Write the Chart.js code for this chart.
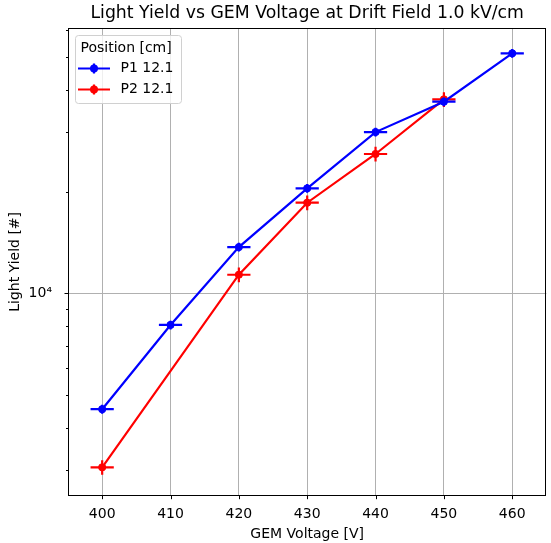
<!DOCTYPE html>
<html><head><meta charset="utf-8">
<script src="https://cdn.jsdelivr.net/npm/chart.js@4.4.0/dist/chart.umd.min.js"></script>
<style>html,body{margin:0;padding:0;background:#fff}#wrap{width:551px;height:543px}canvas{display:block}</style>
</head><body>
<div id="wrap"><canvas id="c" width="551" height="543"></canvas></div>
<script>
// ---- data ----
const voltagesP1 = [400, 410, 420, 430, 440, 450, 460];
const yieldP1    = [4540, 8060, 13700, 20450, 30000, 36900, 51300];
const yErrP1     = [140, 240, 410, 610, 900, 1100, 1540];
const voltagesP2 = [400, 420, 430, 440, 450];
const yieldP2    = [3055, 11350, 18540, 25840, 37500];
const yErrP2     = [150, 570, 930, 1290, 1880];
const xErrV      = 1.7;
const xTickValues = [400, 410, 420, 430, 440, 450, 460];
const yMajorTicks = [10000];
const yMinorTicks = [3000, 4000, 5000, 6000, 7000, 8000, 9000, 20000, 30000, 40000, 50000, 60000];
const seriesLabels = ['P1 12.1', 'P2 12.1'];
const legendTitle = 'Position [cm]';

const FONT = 'DejaVu Sans';
const GRID = '#b0b0b0';

function pts(xs, ys) { return xs.map((x, i) => ({x: x, y: ys[i]})); }
const zeroPad = () => ({left: 0, top: 0, right: 0, bottom: 0});

const errPlugin = {
  id: 'errbars',
  afterDatasetDraw(chart, args) {
    const ds = chart.data.datasets[args.index];
    const xs = chart.scales.x, ys = chart.scales.y, ctx = chart.ctx;
    ctx.save();
    ctx.beginPath();
    ctx.rect(chart.chartArea.left, chart.chartArea.top, chart.chartArea.right - chart.chartArea.left, chart.chartArea.bottom - chart.chartArea.top);
    ctx.clip();
    ctx.strokeStyle = ds.borderColor; ctx.lineWidth = 2.2;
    ds.data.forEach((p, i) => {
      const px = xs.getPixelForValue(p.x), py = ys.getPixelForValue(p.y);
      ctx.beginPath();
      ctx.moveTo(xs.getPixelForValue(p.x - ds.xErr), py);
      ctx.lineTo(xs.getPixelForValue(p.x + ds.xErr), py);
      ctx.moveTo(px, ys.getPixelForValue(p.y - ds.yErr[i]));
      ctx.lineTo(px, ys.getPixelForValue(p.y + ds.yErr[i]));
      ctx.stroke();
    });
    ctx.restore();
  }
};

const framePlugin = {
  id: 'frame',
  afterDraw(chart) {
    const ctx = chart.ctx, a = chart.chartArea, xs = chart.scales.x, ys = chart.scales.y;
    ctx.save();
    ctx.strokeStyle = '#000'; ctx.lineWidth = 1;
    ctx.strokeRect(Math.round(a.left) + 0.5, Math.round(a.top) + 0.5, Math.round(a.right - a.left) - 1, Math.round(a.bottom - a.top) - 1);
    ctx.beginPath();
    xTickValues.forEach(v => {
      const x = Math.round(xs.getPixelForValue(v)) + 0.5;
      ctx.moveTo(x, a.bottom); ctx.lineTo(x, a.bottom + 3.5);
    });
    yMajorTicks.forEach(v => {
      const y = Math.round(ys.getPixelForValue(v)) + 0.5;
      ctx.moveTo(a.left, y); ctx.lineTo(a.left - 3.5, y);
    });
    yMinorTicks.forEach(v => {
      const y = Math.round(ys.getPixelForValue(v)) + 0.5;
      ctx.moveTo(a.left, y); ctx.lineTo(a.left - 2, y);
    });
    ctx.stroke();

    // legend
    const lx = 75, ly = 35, lw = 106, lh = 68;
    ctx.fillStyle = 'rgba(255,255,255,0.8)';
    ctx.strokeStyle = '#d0d0d0';
    ctx.beginPath();
    if (ctx.roundRect) ctx.roundRect(lx + 0.5, ly + 0.5, lw, lh, 3); else ctx.rect(lx + 0.5, ly + 0.5, lw, lh);
    ctx.fill(); ctx.stroke();
    ctx.fillStyle = '#000';
    ctx.font = '14px "' + FONT + '"';
    ctx.textBaseline = 'middle';
    ctx.textAlign = 'left';
    ctx.fillText(legendTitle, 80.5, 48.5);
    chart.data.datasets.forEach((ds, i) => {
      const y = 68.5 + i * 21;
      ctx.strokeStyle = ds.borderColor; ctx.lineWidth = 2.2;
      ctx.beginPath();
      ctx.moveTo(78, y); ctx.lineTo(110, y);
      ctx.moveTo(94, y - 5); ctx.lineTo(94, y + 5);
      ctx.stroke();
      ctx.fillStyle = ds.borderColor;
      ctx.beginPath(); ctx.arc(94, y, 4, 0, Math.PI * 2); ctx.fill();
      ctx.fillStyle = '#000';
      ctx.fillText(seriesLabels[i], 120.5, y);
    });
    ctx.restore();
  }
};

new Chart(document.getElementById('c'), {
  type: 'line',
  data: {
    datasets: [
      { label: seriesLabels[0], data: pts(voltagesP1, yieldP1), yErr: yErrP1, xErr: xErrV,
        borderColor: '#0000ff', backgroundColor: '#0000ff', borderWidth: 2.2, pointRadius: 3.6, pointBorderWidth: 1,
        pointHoverRadius: 3.6, tension: 0, fill: false },
      { label: seriesLabels[1], data: pts(voltagesP2, yieldP2), yErr: yErrP2, xErr: xErrV,
        borderColor: '#ff0000', backgroundColor: '#ff0000', borderWidth: 2.2, pointRadius: 3.6, pointBorderWidth: 1,
        pointHoverRadius: 3.6, tension: 0, fill: false }
    ]
  },
  options: {
    responsive: false, animation: false, devicePixelRatio: 1,
    layout: { padding: { left: 0, right: 3, top: 0, bottom: 0 } },
    plugins: {
      legend: { display: false },
      tooltip: { enabled: false },
      title: { display: true, fullSize: false, text: 'Light Yield vs GEM Voltage at Drift Field 1.0 kV/cm',
        color: '#000', font: { family: FONT, size: 17.3, weight: 'normal' }, padding: { top: 3.5, bottom: 3.8 } }
    },
    scales: {
      x: {
        type: 'linear', min: 395, max: 465,
        afterBuildTicks: s => { s.ticks = xTickValues.map(v => ({value: v})); },
        afterFit: s => { s.height = 47.3; s.paddingLeft = 0; s.paddingRight = 0; s.getPadding = zeroPad; },
        grid: { color: GRID, lineWidth: 1, drawTicks: false },
        border: { display: false },
        ticks: { color: '#000', font: { family: FONT, size: 14 }, padding: 10, maxRotation: 0, autoSkip: false,
          callback: v => String(v) },
        title: { display: true, text: 'GEM Voltage [V]', color: '#000', font: { family: FONT, size: 14 }, padding: { top: 0, bottom: 0 } }
      },
      y: {
        type: 'logarithmic', min: 2518, max: 60950,
        afterBuildTicks: s => { s.ticks = yMinorTicks.concat(yMajorTicks).sort((a, b) => a - b).map(v => ({value: v, major: yMajorTicks.includes(v)})); },
        afterFit: s => { s.width = 68; s.paddingTop = 0; s.paddingBottom = 0; s.getPadding = zeroPad; },
        grid: { color: c => (c.tick && yMajorTicks.includes(c.tick.value)) ? GRID : 'rgba(0,0,0,0)', lineWidth: 1, drawTicks: false },
        border: { display: false },
        ticks: { color: '#000', font: { family: FONT, size: 14 }, padding: 16, autoSkip: false,
          callback: v => yMajorTicks.includes(v) ? '10\u2074' : '' },
        title: { display: true, text: 'Light Yield [#]', color: '#000', font: { family: FONT, size: 14 }, padding: { top: 7, bottom: 0 } }
      }
    }
  },
  plugins: [errPlugin, framePlugin]
});
</script>
</body></html>
